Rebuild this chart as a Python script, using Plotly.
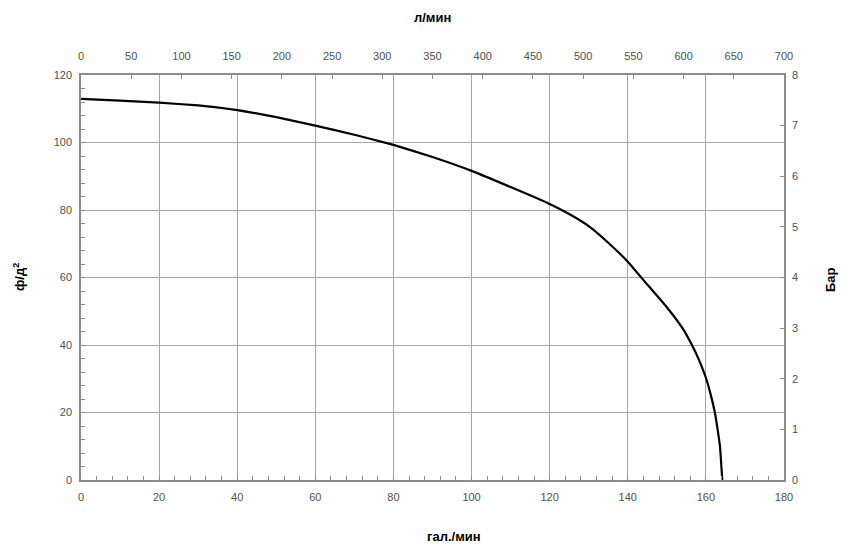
import plotly.graph_objects as go

# Pump curve: flow (US gal/min) vs pressure (psi)
flow_gpm = [0, 10, 20, 30, 40, 50, 60, 70, 80, 90, 100, 110, 120, 125, 130, 135, 140,
            145, 150, 154, 156.3, 158, 160, 161.3, 162.3, 163, 163.6, 164.2]
pressure_psi = [112.9, 112.4, 111.8, 111.0, 109.6, 107.5, 105.0, 102.3, 99.3, 95.7, 91.6,
                86.8, 81.8, 78.8, 75.2, 70.3, 64.7, 57.9, 51.2, 45.0, 40.3, 36.2, 30.3,
                25.0, 20.0, 15.0, 10.0, 0.0]

x_bottom_ticks = [0, 20, 40, 60, 80, 100, 120, 140, 160, 180]
x_top_ticks = [0, 50, 100, 150, 200, 250, 300, 350, 400, 450, 500, 550, 600, 650, 700]
y_left_ticks = [0, 20, 40, 60, 80, 100, 120]
y_right_ticks = [0, 1, 2, 3, 4, 5, 6, 7, 8]

title_bottom = "гал./мин"
title_top = "л/мин"
title_left = "ф/д<sup>2</sup>"
title_right = "Бар"

axis_col = "#8c8c8c"
grid_col = "#a6a6a6"
tick_font = dict(family="Liberation Sans, Arial, sans-serif", size=11, color="#505050")
title_font = dict(family="Liberation Sans, Arial, sans-serif", size=13, color="#000000",
                  weight="bold")

W, H = 841, 546
ML, MR, MT, MB = 81, 57, 75, 66

fig = go.Figure()
fig.add_trace(go.Scatter(x=flow_gpm, y=pressure_psi, mode="lines",
                         line=dict(color="#000000", width=2.2, shape="spline", smoothing=0.35),
                         showlegend=False, hoverinfo="x+y"))
# invisible trace to activate secondary axes
fig.add_trace(go.Scatter(x=[0, 700], y=[0, 8], xaxis="x2", yaxis="y2", mode="markers",
                         marker=dict(opacity=0), showlegend=False, hoverinfo="skip"))

fig.update_layout(
    width=W, height=H,
    margin=dict(l=ML, r=MR, t=MT, b=MB),
    paper_bgcolor="white", plot_bgcolor="white",
    xaxis=dict(range=[0, 180], tickvals=x_bottom_ticks, showgrid=True, gridcolor=grid_col,
               gridwidth=1, showline=True, linecolor=axis_col, linewidth=1.5,
               ticks="inside", ticklen=4, tickcolor=axis_col, tickfont=tick_font,
               ticklabelstandoff=6,
               minor=dict(dtick=4, ticks="inside", ticklen=4, tickcolor=axis_col, showgrid=False),
               zeroline=False, fixedrange=True),
    xaxis2=dict(range=[0, 700], tickvals=x_top_ticks, overlaying="x", side="top",
                showgrid=False, showline=True, linecolor=axis_col, linewidth=1.5,
                ticks="inside", ticklen=4, tickcolor=axis_col, tickfont=tick_font,
                ticklabelstandoff=9,
                zeroline=False, fixedrange=True, anchor="y"),
    yaxis=dict(range=[0, 120], tickvals=y_left_ticks, showgrid=True, gridcolor=grid_col,
               gridwidth=1, showline=True, linecolor=axis_col, linewidth=1.5,
               ticks="inside", ticklen=4, tickcolor=axis_col, tickfont=tick_font,
               ticklabelstandoff=5,
               minor=dict(dtick=4, ticks="inside", ticklen=4, tickcolor=axis_col, showgrid=False),
               zeroline=False, fixedrange=True),
    yaxis2=dict(range=[0, 8], tickvals=y_right_ticks, overlaying="y", side="right",
                showgrid=False, showline=True, linecolor=axis_col, linewidth=1.5,
                ticks="inside", ticklen=4, tickcolor=axis_col, tickfont=tick_font,
                ticklabelstandoff=4,
                zeroline=False, fixedrange=True, anchor="x"),
)

pw = W - ML - MR
ph = H - MT - MB


def px_ann(text, px, py, angle=0):
    return dict(text=text, xref="paper", yref="paper",
                x=(px - ML) / pw, y=(H - MB - py) / ph, showarrow=False,
                font=title_font, textangle=angle, xanchor="center", yanchor="middle")


fig.update_layout(annotations=[
    px_ann(title_top, 432, 18),
    px_ann(title_bottom, 454, 536),
    px_ann(title_left, 19, 277, -90),
    px_ann(title_right, 830, 280, -90),
])

fig.write_html("out.html", config={"displayModeBar": False},
               post_script="document.body.style.margin='0';")
